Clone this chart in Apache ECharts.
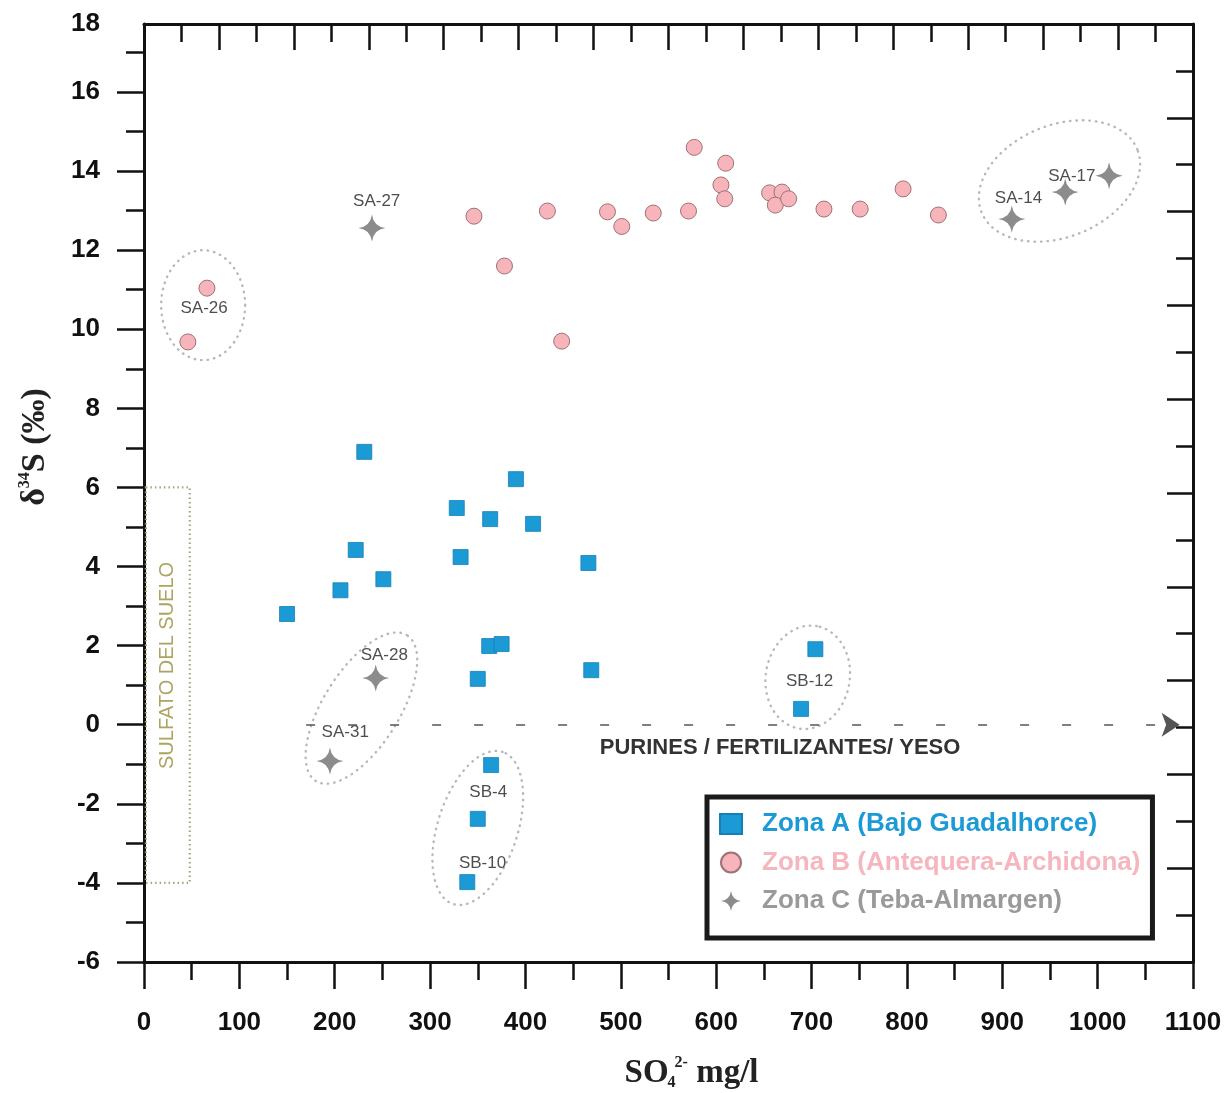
<!DOCTYPE html>
<html>
<head>
<meta charset="utf-8">
<script src="https://cdn.jsdelivr.net/npm/echarts@6/dist/echarts.min.js"></script>
<style>
html, body { margin: 0; padding: 0; background: #fff; }
#chart { width: 1231px; height: 1093px; }
</style>
</head>
<body>
<div id="chart"></div>
<script>
const sans = "'Liberation Sans', Arial, sans-serif";
const serif = "'Liberation Serif', 'Times New Roman', serif";

const seriesNames = [
  "Zona A (Bajo Guadalhorce)",
  "Zona B (Antequera-Archidona)",
  "Zona C (Teba-Almargen)",
];

// [SO4 mg/l, d34S permil]
const zonaA = [
  [231, 6.9], [390, 6.21], [328, 5.48], [363, 5.2], [408, 5.08],
  [222, 4.42], [332, 4.24], [466, 4.09], [251, 3.68], [206, 3.4],
  [150, 2.8], [362, 1.99], [375, 2.04], [350, 1.16], [469, 1.38],
  [704, 1.91], [689, 0.4], [364, -1.02], [350, -2.38], [339, -3.98],
];

const zonaB = [
  [66, 11.04], [46, 9.68], [346, 12.86], [378, 11.6], [423, 12.99],
  [438, 9.7], [486, 12.97], [501, 12.6], [534, 12.94], [571, 12.99],
  [577, 14.6], [605, 13.65], [610, 14.2], [609, 13.3], [656, 13.45],
  [669, 13.47], [662, 13.14], [676, 13.3], [713, 13.04], [751, 13.04],
  [796, 13.55], [833, 12.89],
];

const zonaC = [
  [239, 12.56], [910, 12.79], [966, 13.47], [1012, 13.88],
  [243, 1.18], [195, -0.92],
];

const siteLabels = [
  [63, 10.54, "SA-26"], [244, 13.24, "SA-27"], [252, 1.76, "SA-28"],
  [211, -0.18, "SA-31"], [917, 13.32, "SA-14"], [973, 13.88, "SA-17"],
  [361, -1.7, "SB-4"], [355, -3.5, "SB-10"], [698, 1.11, "SB-12"],
];

// groups circled with a dotted ring: centre x, centre y, half axes (px), tilt (deg)
const rings = [
  [62, 10.61, 42, 55, 0],
  [228, 0.42, 86, 38, 58],
  [350, -2.61, 80, 40, 72],
  [696, 1.2, 52, 42, 80],
  [960, 13.75, 84, 56, 22],
];

const soilBox = [[2, -4, 48, 6]];
const soilText = [[25, 1.5, "SULFATO DEL SUELO"]];
const mixArrow = [[170, 0], [1086, 0]];
const mixText = [[667, -0.59, "PURINES / FERTILIZANTES/ YESO"]];

const yLabels = [-6, -4, -2, 0, 2, 4, 6, 8, 10, 12, 14, 16, 18];
const yMinor = [-5, -3, -1, 1, 3, 5, 7, 9, 11, 13, 15, 17];
const yTop = 17.72; // frame top sits just under 18

const starPath = "path://M0,-14Q1.6,-1.6,14,0Q1.6,1.6,0,14Q-1.6,1.6,-14,0Q-1.6,-1.6,0,-14Z";

const init = () => {
  let myChart = echarts.init(document.getElementById("chart"));

  const tickStyle = { color: "#111", width: 2.5 };
  const lineStyle = { color: "#111", width: 3 };

  const ringItem = (params, api) => {
    const c = api.coord([api.value(0), api.value(1)]);
    const a = api.value(2), b = api.value(3), t = (api.value(4) * Math.PI) / 180;
    const pts = [];
    for (let i = 0; i < 96; i++) {
      const s = (i / 96) * Math.PI * 2;
      const ex = a * Math.cos(s), ey = b * Math.sin(s);
      pts.push([
        c[0] + ex * Math.cos(t) - ey * Math.sin(t),
        c[1] - (ex * Math.sin(t) + ey * Math.cos(t)),
      ]);
    }
    return {
      type: "polygon",
      shape: { points: pts },
      style: { fill: "none", stroke: "#b8b8b8", lineWidth: 2.4, lineDash: [0.5, 6], lineCap: "round" },
    };
  };

  const boxItem = (params, api) => {
    const p0 = api.coord([api.value(0), api.value(3)]);
    const p1 = api.coord([api.value(2), api.value(1)]);
    return {
      type: "rect",
      shape: { x: p0[0], y: p0[1], width: p1[0] - p0[0], height: p1[1] - p0[1] },
      style: { fill: "none", stroke: "#a8a67c", lineWidth: 2.2, lineDash: [1.5, 3] },
    };
  };

  const textItem = (font, color, rotation) => (params, api) => {
    const c = api.coord([api.value(0), api.value(1)]);
    return {
      type: "text",
      x: c[0],
      y: c[1],
      rotation: rotation,
      style: {
        text: api.value(2),
        font: font,
        fill: color,
        align: "center",
        verticalAlign: "middle",
      },
    };
  };

  let option = {
    backgroundColor: "#fff",
    animation: false,
    grid: {
      left: 144,
      right: 38,
      top: 24,
      bottom: 131,
      containLabel: false,
      outerBoundsMode: "none",
    },
    legend: {
      orient: "vertical",
      left: 707,
      top: 797,
      padding: [14, 12, 24, 12],
      itemGap: 12.5,
      itemWidth: 22,
      itemHeight: 20,
      borderColor: "#1a1a1a",
      borderWidth: 5,
      backgroundColor: "#fff",
      textStyle: {
        fontSize: 26,
        fontWeight: "bold",
        fontFamily: sans,
        lineHeight: 26,
        padding: [0, 0, 0, 15],
      },
      data: [
        { name: seriesNames[0], textStyle: { color: "#1c9ad6" } },
        { name: seriesNames[1], textStyle: { color: "#f6b6be" } },
        { name: seriesNames[2], textStyle: { color: "#9a9a9a" } },
      ],
    },
    xAxis: [
      {
        type: "value",
        position: "bottom",
        min: 0,
        max: 1100,
        interval: 100,
        axisLine: { onZero: false, lineStyle: lineStyle },
        axisTick: { length: 27, lineStyle: tickStyle },
        minorTick: { show: true, splitNumber: 2, length: 18, lineStyle: tickStyle },
        splitLine: { show: false },
        axisLabel: {
          formatter: (v) => String(v),
          fontSize: 26,
          fontWeight: "bold",
          color: "#111",
          fontFamily: sans,
          margin: 48,
        },
        name: "{d|SO}{sub|4}{sup|2-}{d| mg/l}",
        nameLocation: "middle",
        nameGap: 93,
        nameTextStyle: {
          padding: [0, 0, 0, 46],
          rich: {
            d: { fontFamily: serif, fontWeight: "bold", fontSize: 33, color: "#222", lineHeight: 36 },
            sub: { fontFamily: serif, fontWeight: "bold", fontSize: 16, color: "#222", verticalAlign: "bottom", width: 6 },
            sup: { fontFamily: serif, fontWeight: "bold", fontSize: 16, color: "#222", verticalAlign: "top", padding: [0, 0, 12, 0] },
          },
        },
      },
      {
        type: "value",
        position: "top",
        min: 0,
        max: 28,
        interval: 2,
        axisLine: { onZero: false, lineStyle: lineStyle },
        axisTick: { inside: true, length: 26, lineStyle: tickStyle },
        minorTick: { show: true, splitNumber: 2, length: 18, lineStyle: tickStyle },
        axisLabel: { show: false },
        splitLine: { show: false },
      },
    ],
    yAxis: [
      {
        type: "value",
        position: "left",
        min: -6,
        max: yTop,
        interval: 2,
        axisLine: { onZero: false, lineStyle: lineStyle },
        axisTick: { length: 27, lineStyle: tickStyle, customValues: yLabels.filter((v) => v < yTop) },
        splitLine: { show: false },
        axisLabel: {
          customValues: yLabels.map((v) => Math.min(v, yTop)),
          formatter: (v) => (v >= yTop ? "18" : String(v)),
          fontSize: 26,
          fontWeight: "bold",
          color: "#111",
          fontFamily: sans,
          margin: 44,
        },
        name: "{d|δ}{sup|34}{d|S (‰)}",
        nameLocation: "middle",
        nameRotate: 90,
        nameGap: 91,
        nameTextStyle: {
          padding: [0, 0, 0, 92],
          rich: {
            d: { fontFamily: serif, fontWeight: "bold", fontSize: 34, color: "#222", lineHeight: 36 },
            sup: { fontFamily: serif, fontWeight: "bold", fontSize: 16, color: "#222", verticalAlign: "top", padding: [0, 0, 14, 0] },
          },
        },
      },
      {
        type: "value",
        position: "right",
        min: 0,
        max: 20,
        interval: 2,
        axisLine: { onZero: false, lineStyle: lineStyle },
        axisTick: { inside: true, length: 26, lineStyle: tickStyle },
        minorTick: { show: true, splitNumber: 2, length: 17, lineStyle: tickStyle },
        axisLabel: { show: false },
        splitLine: { show: false },
      },
      {
        type: "value",
        position: "left",
        min: -6,
        max: yTop,
        axisLine: { show: false, onZero: false },
        axisTick: { length: 18, lineStyle: tickStyle, customValues: yMinor },
        axisLabel: { show: false },
        splitLine: { show: false },
      },
    ],
    series: [
      {
        name: "rings",
        type: "custom",
        silent: true,
        renderItem: ringItem,
        data: rings,
        z: 1,
      },
      {
        name: "soil",
        type: "custom",
        silent: true,
        renderItem: boxItem,
        data: soilBox,
        z: 1,
      },
      {
        name: "soilText",
        type: "custom",
        silent: true,
        renderItem: textItem("20px " + sans, "#aca562", Math.PI / 2),
        data: soilText,
        z: 1,
      },
      {
        name: "mixText",
        type: "custom",
        silent: true,
        renderItem: textItem("bold 22px " + sans, "#333", 0),
        data: mixText,
        z: 1,
        markLine: {
          silent: true,
          symbol: ["none", "arrow"],
          symbolSize: 18,
          label: { show: false },
          lineStyle: { color: "#555", width: 1.5, type: [9, 33] },
          itemStyle: { color: "#444" },
          data: [[{ coord: mixArrow[0] }, { coord: mixArrow[1] }]],
        },
      },
      {
        name: seriesNames[0],
        type: "scatter",
        symbol: "rect",
        symbolSize: 15,
        itemStyle: { color: "#1c9ad6", borderColor: "#1580b4", borderWidth: 0.8, opacity: 1 },
        data: zonaA,
        z: 3,
      },
      {
        name: seriesNames[1],
        type: "scatter",
        symbol: "circle",
        symbolSize: 16,
        itemStyle: { color: "#f7b4bb", borderColor: "#9e7276", borderWidth: 1, opacity: 1 },
        data: zonaB,
        z: 3,
      },
      {
        name: seriesNames[2],
        type: "scatter",
        symbol: starPath,
        symbolSize: 27,
        itemStyle: { color: "#8c8c8c", opacity: 1 },
        data: zonaC,
        z: 3,
      },
      {
        name: "sites",
        type: "scatter",
        silent: true,
        symbolSize: 0,
        label: {
          show: true,
          position: "inside",
          formatter: (p) => p.data[2],
          fontSize: 17,
          color: "#222",
          fontFamily: sans,
        },
        data: siteLabels,
        z: 4,
      },
    ],
  };

  option && myChart.setOption(option);
};

init();
</script>
</body>
</html>
